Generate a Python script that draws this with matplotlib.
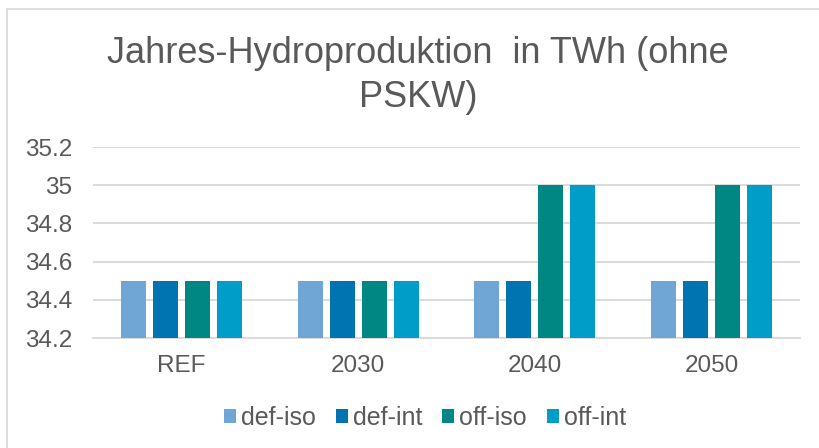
import matplotlib
matplotlib.use("Agg")
import matplotlib.pyplot as plt
import numpy as np
from matplotlib.patches import Rectangle

categories = ["REF", "2030", "2040", "2050"]
series_names = ["def-iso", "def-int", "off-iso", "off-int"]
def_iso = [34.5, 34.5, 34.5, 34.5]
def_int = [34.5, 34.5, 34.5, 34.5]
off_iso = [34.5, 34.5, 35.0, 35.0]
off_int = [34.5, 34.5, 35.0, 35.0]
yticks = [34.2, 34.4, 34.6, 34.8, 35.0, 35.2]
ytick_labels = ["34.2", "34.4", "34.6", "34.8", "35", "35.2"]
title_lines = ["Jahres-Hydroproduktion  in TWh (ohne", "PSKW)"]
colors = ["#70A6D5", "#0073B1", "#008784", "#009DC8"]

plt.rcParams['font.family'] = ['Liberation Sans', 'DejaVu Sans']
txt = "#595959"

fig = plt.figure(figsize=(8.2, 4.48), dpi=100)
fig.patch.set_facecolor("white")
fig.add_artist(Rectangle((7/820, -0.1), 1.0, 1 - 9/448 + 0.1, transform=fig.transFigure,
                         fill=False, edgecolor="#D9D9D9", linewidth=1.2))

ax = fig.add_axes([93/820, 1 - 338/448, (800 - 93)/820, (338 - 147)/448])
x = np.arange(len(categories))
slot = 0.181
width = 0.141
data = [def_iso, def_int, off_iso, off_int]
for i, (name, vals, c) in enumerate(zip(series_names, data, colors)):
    ax.bar(x + (i - 1.5) * slot, np.array(vals) - 34.2, width=width, bottom=34.2,
           color=c, label=name, zorder=3)

ax.set_xlim(-0.5, len(categories) - 0.5)
ax.set_ylim(34.2, 35.2)
ax.set_yticks(yticks)
ax.set_yticklabels(ytick_labels)
ax.set_xticks(x)
ax.set_xticklabels(categories)
ax.tick_params(axis='both', length=0, labelsize=17.5, colors=txt)
ax.tick_params(axis='y', pad=15)
ax.tick_params(axis='x', pad=12)
ax.grid(axis='y', color="#D9D9D9", linewidth=1.3, zorder=0)
for s in ["top", "right", "left"]:
    ax.spines[s].set_visible(False)
ax.spines["bottom"].set_color("#D9D9D9")
ax.spines["bottom"].set_linewidth(1.3)

fig.text(418/820, 1 - 63/448, title_lines[0], ha="center", va="baseline", fontsize=26, color=txt)
fig.text(418/820, 1 - 107/448, title_lines[1], ha="center", va="baseline", fontsize=26, color=txt)

leg = fig.legend(loc="center", bbox_to_anchor=(425/820, 1 - 418/448), ncol=4, frameon=False,
                 fontsize=18, handlelength=0.48, handleheight=0.48, handletextpad=0.2,
                 columnspacing=0.8, labelcolor=txt, borderaxespad=0, borderpad=0)

fig.savefig("out.png", dpi=100)
